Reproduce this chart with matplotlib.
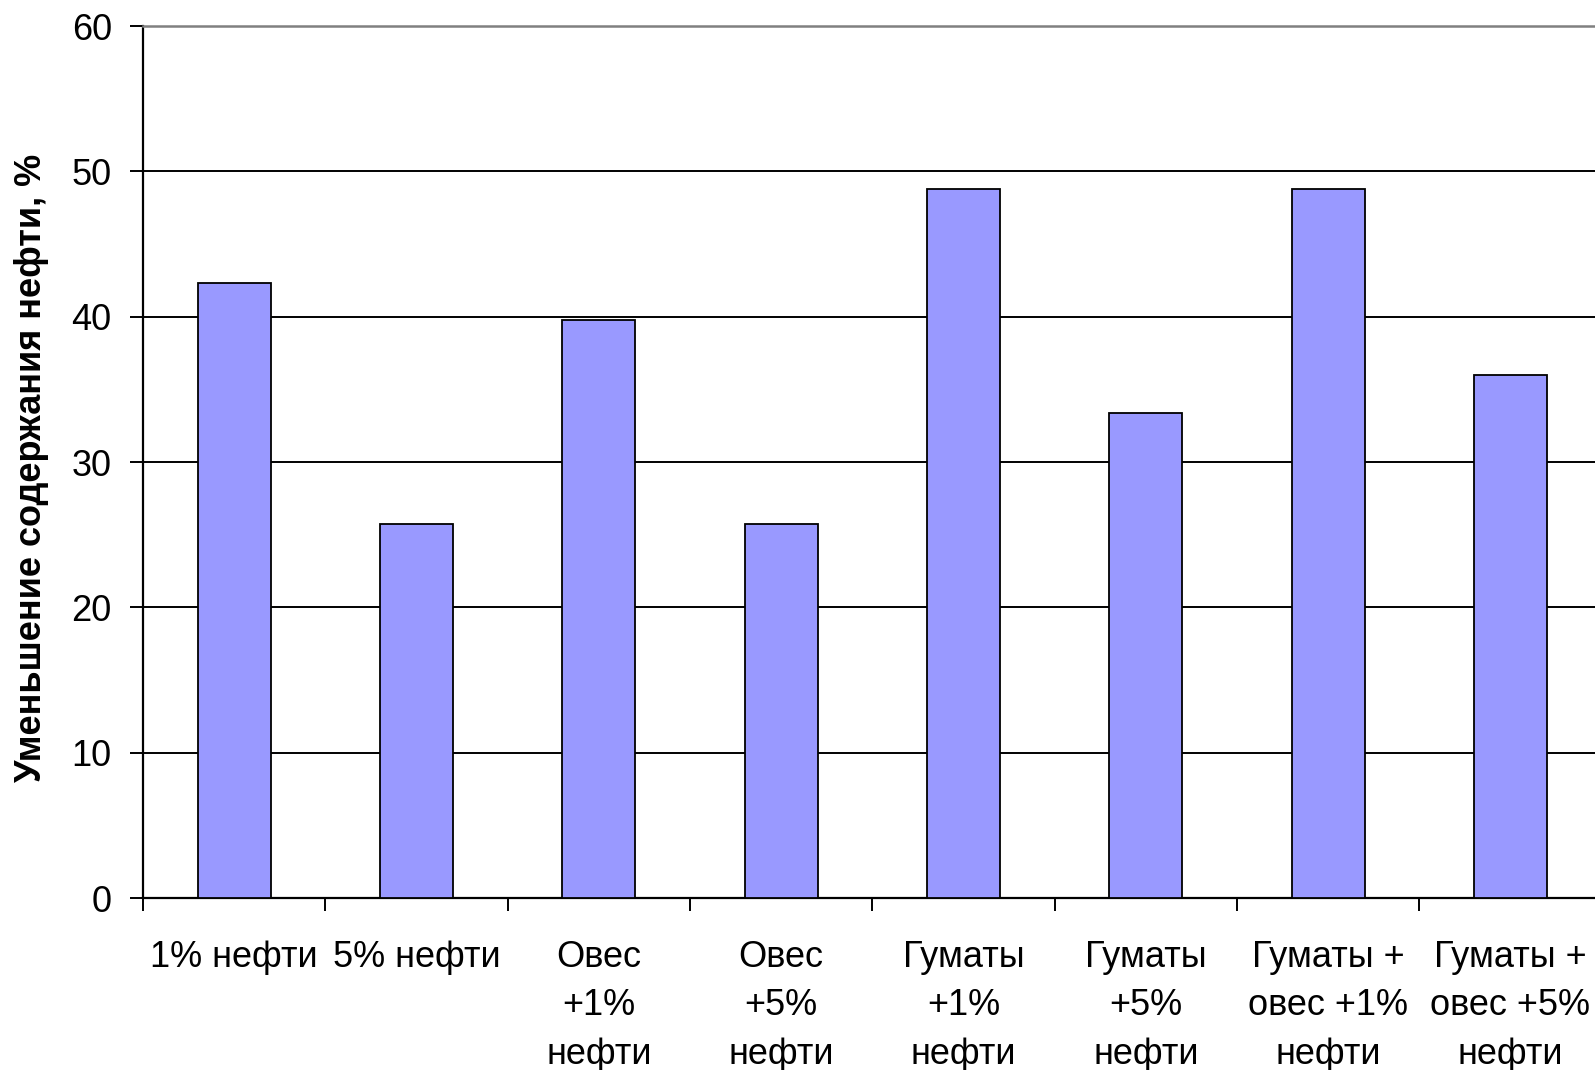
import matplotlib
matplotlib.use("Agg")
import matplotlib.pyplot as plt
import numpy as np

plt.rcParams['font.family'] = ['Liberation Sans', 'DejaVu Sans']

categories = [
    "1% нефти",
    "5% нефти",
    "Овес\n+1%\nнефти",
    "Овес\n+5%\nнефти",
    "Гуматы\n+1%\nнефти",
    "Гуматы\n+5%\nнефти",
    "Гуматы +\nовес +1%\nнефти",
    "Гуматы +\nовес +5%\nнефти",
]
values = [42.3, 25.7, 39.8, 25.7, 48.8, 33.4, 48.8, 36.0]
y_ticks = [0, 10, 20, 30, 40, 50, 60]
y_label = "Уменьшение содержания нефти, %"

W, H, DPI = 1595, 1070, 100
fig = plt.figure(figsize=(W / DPI, H / DPI), dpi=DPI)
ax = fig.add_axes([143 / W, 1 - 898 / H, (1601.6 - 143) / W, (898 - 26) / H])

x = np.arange(len(values))
ax.bar(x, values, width=0.4, color="#9999FF", edgecolor="black",
       linewidth=1.3, zorder=3)

ax.set_xlim(-0.5, len(values) - 0.5)
ax.set_ylim(0, 60)
ax.set_yticks(y_ticks)
ax.set_yticklabels([str(v) for v in y_ticks], fontsize=26)

# category boundaries carry the tick marks, labels sit in between
ax.set_xticks(np.arange(len(values) + 1) - 0.5)
ax.set_xticklabels([])
ax.set_xticks(x, minor=True)
ax.set_xticklabels(categories, minor=True, fontsize=26, linespacing=1.5)
ax.tick_params(axis='x', which='minor', length=0, pad=30)
ax.tick_params(axis='x', which='major', direction='out', length=9.5,
               width=1.4, color='black')
ax.tick_params(axis='y', direction='out', length=9.5, width=1.4, pad=13)

ax.yaxis.grid(True, color='black', linewidth=1.4, zorder=1)
ax.set_axisbelow(True)

for side in ('left', 'bottom'):
    ax.spines[side].set_linewidth(1.6)
    ax.spines[side].set_color('black')
ax.spines['top'].set_color('#808080')
ax.spines['top'].set_linewidth(1.8)
ax.spines['right'].set_visible(False)

fig.text(32 / W, 1 - 468 / H, y_label, rotation=90, fontsize=26,
         fontweight='bold', ha='center', va='center')

fig.savefig("out.png", dpi=DPI, facecolor='white')
